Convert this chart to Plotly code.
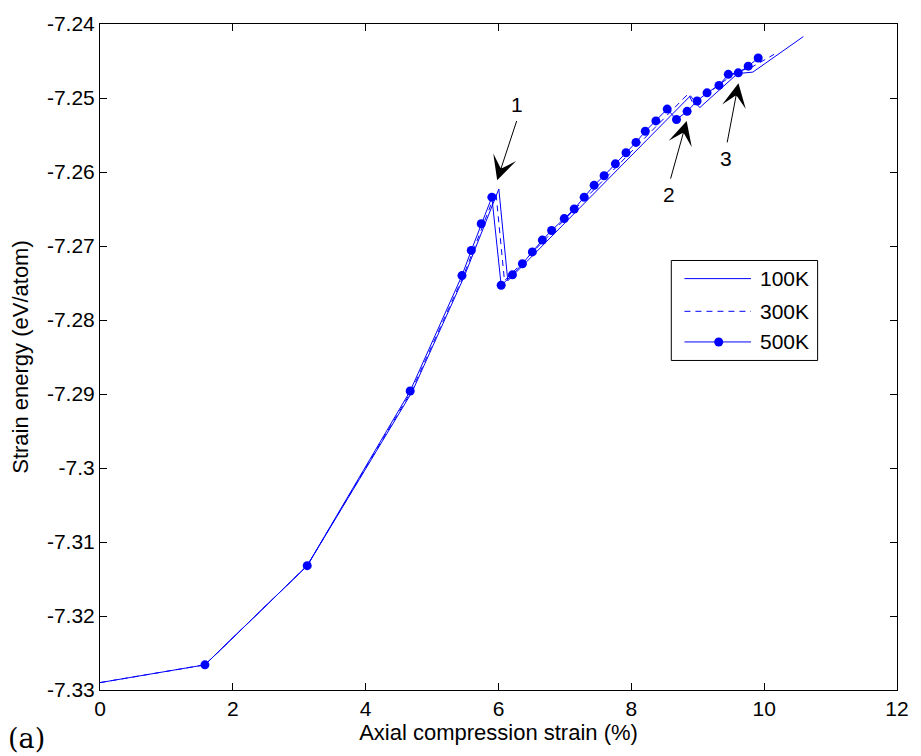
import plotly.graph_objects as go

# Strain (%) and strain energy (eV/atom) for the three temperatures
strain_100 = [0, 1.58, 3.12, 4.70, 5.48, 6.005, 6.14, 8.89, 9.03, 9.60, 9.83, 10.59]
energy_100 = [-7.3290, -7.3266, -7.3132, -7.2897, -7.2742, -7.2623, -7.2747,
              -7.2497, -7.2513, -7.2467, -7.2465, -7.2417]

strain_300 = [0, 1.58, 3.12, 4.69, 5.47, 5.96, 6.09, 8.86, 8.93, 9.58, 9.80, 10.15]
energy_300 = [-7.3290, -7.3266, -7.3132, -7.2896, -7.2741, -7.2627, -7.2747,
              -7.2494, -7.2508, -7.2465, -7.2459, -7.2441]

strain_500 = [1.58, 3.12, 4.67, 5.45, 5.59, 5.74, 5.90, 6.04, 6.21, 6.36, 6.51,
              6.66, 6.80, 6.99, 7.14, 7.29, 7.44, 7.59, 7.76, 7.92, 8.07, 8.21,
              8.37, 8.54, 8.68, 8.84, 8.99, 9.14, 9.32, 9.46, 9.61, 9.76, 9.91]
energy_500 = [-7.3266, -7.3132, -7.2896, -7.2740, -7.2706, -7.2670, -7.2634,
              -7.2753, -7.2739, -7.2724, -7.2708, -7.2692, -7.2679, -7.2663,
              -7.2650, -7.2634, -7.2618, -7.2605, -7.2589, -7.2574, -7.2560,
              -7.2545, -7.2531, -7.2515, -7.2529, -7.2518, -7.2504, -7.2493,
              -7.2483, -7.2468, -7.2466, -7.2457, -7.2446]

series_names = ["100K", "300K", "500K"]

x_ticks = [0, 2, 4, 6, 8, 10, 12]
y_ticks = [-7.24, -7.25, -7.26, -7.27, -7.28, -7.29, -7.30, -7.31, -7.32, -7.33]
y_tick_labels = ["-7.24", "-7.25", "-7.26", "-7.27", "-7.28", "-7.29", "-7.3",
                 "-7.31", "-7.32", "-7.33"]

# Arrow callouts: label, arrow tip (x, y), arrow tail (x, y), label position
callout_labels = ["1", "2", "3"]
callout_tips = [(5.98, -7.2611), (8.833, -7.2531), (9.613, -7.2480)]
callout_tails = [(6.281, -7.2529), (8.585, -7.2611), (9.439, -7.2562)]
callout_text_pos = [(6.281, -7.2509), (8.560, -7.2631), (9.430, -7.2582)]

BLUE = "rgb(0,0,255)"
FONT = "Liberation Sans, Arial, sans-serif"

fig = go.Figure()
fig.add_trace(go.Scatter(x=strain_100, y=energy_100, mode="lines",
                         line=dict(color=BLUE, width=1), name=series_names[0]))
fig.add_trace(go.Scatter(x=strain_300, y=energy_300, mode="lines",
                         line=dict(color=BLUE, width=1, dash="6px,5px"),
                         name=series_names[1]))
fig.add_trace(go.Scatter(x=strain_500, y=energy_500, mode="lines+markers",
                         line=dict(color=BLUE, width=1),
                         marker=dict(color=BLUE, size=9), name=series_names[2]))

annotations = []
for lab, tip, tail, tpos in zip(callout_labels, callout_tips, callout_tails, callout_text_pos):
    annotations.append(dict(x=tip[0], y=tip[1], ax=tail[0], ay=tail[1],
                            xref="x", yref="y", axref="x", ayref="y",
                            text="", showarrow=True, arrowhead=3, arrowsize=4,
                            arrowwidth=1, arrowcolor="black"))
    annotations.append(dict(x=tpos[0], y=tpos[1], xref="x", yref="y", text=lab,
                            showarrow=False, font=dict(family=FONT, size=21, color="black")))

# Boxed legend drawn inside the axes
shapes = [dict(type="rect", xref="paper", yref="paper", x0=0.7168, x1=0.9004,
               y0=0.4948, y1=0.6449, line=dict(color="black", width=1),
               fillcolor="white", layer="above")]
legend_rows = [0.6177, 0.5686, 0.5226]
legend_dash = ["solid", "6px,5px", "solid"]
for row, dash, name in zip(legend_rows, legend_dash, series_names):
    shapes.append(dict(type="line", xref="paper", yref="paper", x0=0.7333, x1=0.8168,
                       y0=row, y1=row, line=dict(color=BLUE, width=1, dash=dash),
                       layer="above"))
    annotations.append(dict(x=0.8262, y=row, xref="paper", yref="paper", text=name,
                            xanchor="left", showarrow=False,
                            font=dict(family=FONT, size=21, color="black")))
shapes.append(dict(type="circle", xref="paper", yref="paper", xsizemode="pixel",
                   ysizemode="pixel", xanchor=0.7763, yanchor=legend_rows[2],
                   x0=-4.5, x1=4.5, y0=-4.5, y1=4.5, fillcolor=BLUE,
                   line=dict(color=BLUE, width=0), layer="above"))

annotations.append(dict(x=-0.118, y=-0.0985, xref="paper", yref="paper", text="(a)",
                        xanchor="left", yanchor="bottom", showarrow=False,
                        font=dict(family="DejaVu Serif, serif", size=27, color="black")))

fig.update_layout(
    width=921, height=756,
    margin=dict(l=100, r=15, t=17, b=66),
    paper_bgcolor="white", plot_bgcolor="white",
    showlegend=False,
    font=dict(family=FONT, size=21, color="black"),
    shapes=shapes, annotations=annotations,
    xaxis=dict(range=[0, 12], tickvals=x_ticks, ticks="inside", ticklen=7,
               tickcolor="black", showline=True, linecolor="black", linewidth=1,
               mirror="ticks", showgrid=False, zeroline=False,
               tickfont=dict(family=FONT, size=21),
               title=dict(text="Axial compression strain (%)", standoff=2,
                          font=dict(family=FONT, size=22))),
    yaxis=dict(range=[-7.33, -7.24], tickvals=y_ticks, ticktext=y_tick_labels,
               ticks="inside", ticklen=7, tickcolor="black", showline=True,
               linecolor="black", linewidth=1, mirror="ticks", showgrid=False,
               zeroline=False, tickfont=dict(family=FONT, size=21),
               title=dict(text="Strain energy (eV/atom)", standoff=12,
                          font=dict(family=FONT, size=22))),
)

fig.write_html("out.html")
